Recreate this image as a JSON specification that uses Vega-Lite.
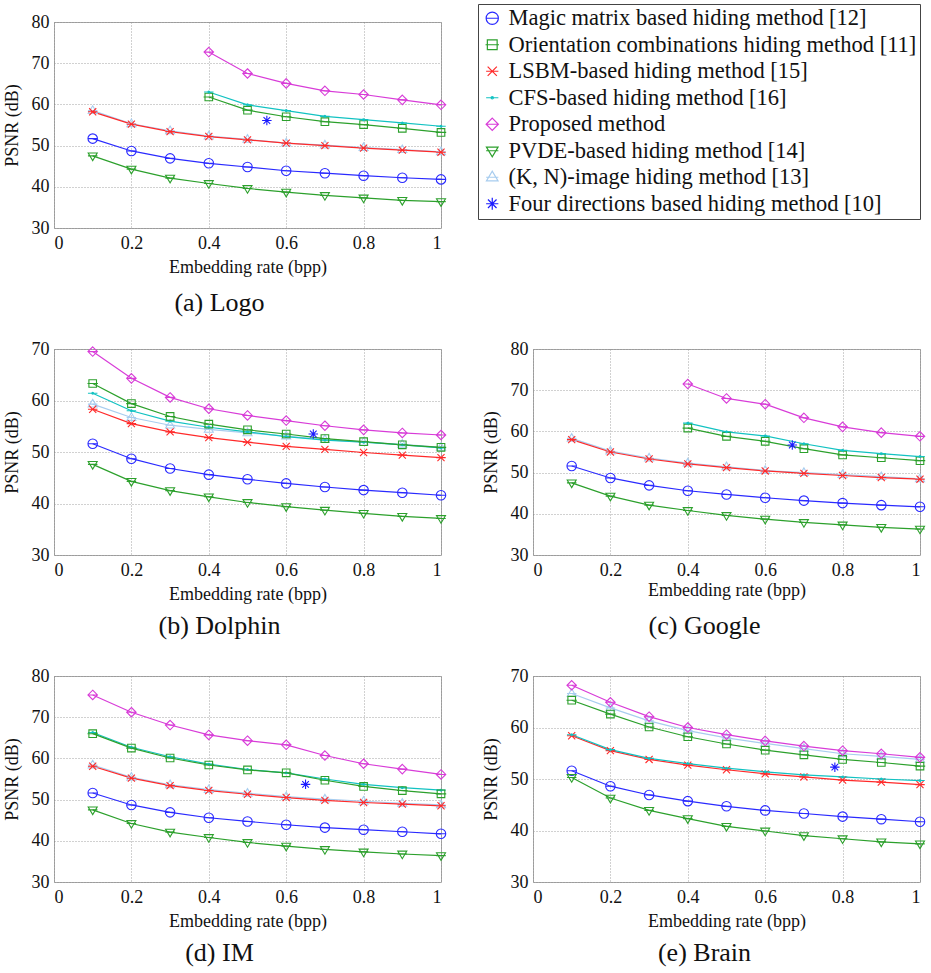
{
"$schema": "https://vega.github.io/schema/vega-lite/v6.json",
"background": "white",
"padding": {"left": 2, "top": 3, "right": 5, "bottom": 5},
"datasets": {
"methods": [
{"m":"M","method":"Magic matrix based hiding method [12]"},
{"m":"O","method":"Orientation combinations hiding method [11]"},
{"m":"L","method":"LSBM-based hiding method [15]"},
{"m":"C","method":"CFS-based hiding method [16]"},
{"m":"P","method":"Proposed method"},
{"m":"V","method":"PVDE-based hiding method [14]"},
{"m":"K","method":"(K, N)-image hiding method [13]"},
{"m":"F","method":"Four directions based hiding method [10]"}
],
"psnr": [
{"i":"a","m":"M","r":0.1,"p":51.7},{"i":"a","m":"M","r":0.2,"p":48.7},{"i":"a","m":"M","r":0.3,"p":46.9},{"i":"a","m":"M","r":0.4,"p":45.7},{"i":"a","m":"M","r":0.5,"p":44.8},{"i":"a","m":"M","r":0.6,"p":43.9},{"i":"a","m":"M","r":0.7,"p":43.3},{"i":"a","m":"M","r":0.8,"p":42.7},{"i":"a","m":"M","r":0.9,"p":42.2},{"i":"a","m":"M","r":1.0,"p":41.8},
{"i":"a","m":"O","r":0.4,"p":61.8},{"i":"a","m":"O","r":0.5,"p":58.6},{"i":"a","m":"O","r":0.6,"p":57.0},{"i":"a","m":"O","r":0.7,"p":55.8},{"i":"a","m":"O","r":0.8,"p":55.1},{"i":"a","m":"O","r":0.9,"p":54.2},{"i":"a","m":"O","r":1.0,"p":53.2},
{"i":"a","m":"K","r":0.1,"p":58.5},{"i":"a","m":"K","r":0.2,"p":55.3},{"i":"a","m":"K","r":0.3,"p":53.6},{"i":"a","m":"K","r":0.4,"p":52.3},{"i":"a","m":"K","r":0.5,"p":51.5},{"i":"a","m":"K","r":0.6,"p":50.6},{"i":"a","m":"K","r":0.7,"p":50.1},{"i":"a","m":"K","r":0.8,"p":49.5},{"i":"a","m":"K","r":0.9,"p":49.0},{"i":"a","m":"K","r":1.0,"p":48.5},
{"i":"a","m":"L","r":0.1,"p":58.2},{"i":"a","m":"L","r":0.2,"p":55.2},{"i":"a","m":"L","r":0.3,"p":53.4},{"i":"a","m":"L","r":0.4,"p":52.2},{"i":"a","m":"L","r":0.5,"p":51.4},{"i":"a","m":"L","r":0.6,"p":50.6},{"i":"a","m":"L","r":0.7,"p":50.0},{"i":"a","m":"L","r":0.8,"p":49.4},{"i":"a","m":"L","r":0.9,"p":48.9},{"i":"a","m":"L","r":1.0,"p":48.4},
{"i":"a","m":"C","r":0.4,"p":63.0},{"i":"a","m":"C","r":0.5,"p":59.9},{"i":"a","m":"C","r":0.6,"p":58.5},{"i":"a","m":"C","r":0.7,"p":57.1},{"i":"a","m":"C","r":0.8,"p":56.3},{"i":"a","m":"C","r":0.9,"p":55.5},{"i":"a","m":"C","r":1.0,"p":54.7},
{"i":"a","m":"P","r":0.4,"p":72.7},{"i":"a","m":"P","r":0.5,"p":67.5},{"i":"a","m":"P","r":0.6,"p":65.1},{"i":"a","m":"P","r":0.7,"p":63.3},{"i":"a","m":"P","r":0.8,"p":62.4},{"i":"a","m":"P","r":0.9,"p":61.1},{"i":"a","m":"P","r":1.0,"p":59.9},
{"i":"a","m":"V","r":0.1,"p":47.5},{"i":"a","m":"V","r":0.2,"p":44.3},{"i":"a","m":"V","r":0.3,"p":42.1},{"i":"a","m":"V","r":0.4,"p":40.8},{"i":"a","m":"V","r":0.5,"p":39.6},{"i":"a","m":"V","r":0.6,"p":38.7},{"i":"a","m":"V","r":0.7,"p":37.9},{"i":"a","m":"V","r":0.8,"p":37.3},{"i":"a","m":"V","r":0.9,"p":36.7},{"i":"a","m":"V","r":1.0,"p":36.4},
{"i":"a","m":"F","r":0.55,"p":56.1},

{"i":"b","m":"M","r":0.1,"p":51.6},{"i":"b","m":"M","r":0.2,"p":48.7},{"i":"b","m":"M","r":0.3,"p":46.8},{"i":"b","m":"M","r":0.4,"p":45.6},{"i":"b","m":"M","r":0.5,"p":44.7},{"i":"b","m":"M","r":0.6,"p":43.9},{"i":"b","m":"M","r":0.7,"p":43.2},{"i":"b","m":"M","r":0.8,"p":42.6},{"i":"b","m":"M","r":0.9,"p":42.1},{"i":"b","m":"M","r":1.0,"p":41.6},
{"i":"b","m":"K","r":0.1,"p":59.3},{"i":"b","m":"K","r":0.2,"p":56.7},{"i":"b","m":"K","r":0.3,"p":55.2},{"i":"b","m":"K","r":0.4,"p":54.4},{"i":"b","m":"K","r":0.5,"p":53.7},{"i":"b","m":"K","r":0.6,"p":53.1},{"i":"b","m":"K","r":0.7,"p":52.4},{"i":"b","m":"K","r":0.8,"p":51.9},{"i":"b","m":"K","r":0.9,"p":51.5},{"i":"b","m":"K","r":1.0,"p":50.9},
{"i":"b","m":"L","r":0.1,"p":58.3},{"i":"b","m":"L","r":0.2,"p":55.5},{"i":"b","m":"L","r":0.3,"p":53.9},{"i":"b","m":"L","r":0.4,"p":52.8},{"i":"b","m":"L","r":0.5,"p":51.9},{"i":"b","m":"L","r":0.6,"p":51.1},{"i":"b","m":"L","r":0.7,"p":50.5},{"i":"b","m":"L","r":0.8,"p":49.9},{"i":"b","m":"L","r":0.9,"p":49.4},{"i":"b","m":"L","r":1.0,"p":48.9},
{"i":"b","m":"C","r":0.1,"p":61.4},{"i":"b","m":"C","r":0.2,"p":58.0},{"i":"b","m":"C","r":0.3,"p":56.0},{"i":"b","m":"C","r":0.4,"p":54.8},{"i":"b","m":"C","r":0.5,"p":53.9},{"i":"b","m":"C","r":0.6,"p":53.0},{"i":"b","m":"C","r":0.7,"p":52.3},{"i":"b","m":"C","r":0.8,"p":51.9},{"i":"b","m":"C","r":0.9,"p":51.4},{"i":"b","m":"C","r":1.0,"p":50.8},
{"i":"b","m":"O","r":0.1,"p":63.3},{"i":"b","m":"O","r":0.2,"p":59.4},{"i":"b","m":"O","r":0.3,"p":56.9},{"i":"b","m":"O","r":0.4,"p":55.4},{"i":"b","m":"O","r":0.5,"p":54.3},{"i":"b","m":"O","r":0.6,"p":53.5},{"i":"b","m":"O","r":0.7,"p":52.6},{"i":"b","m":"O","r":0.8,"p":52.0},{"i":"b","m":"O","r":0.9,"p":51.4},{"i":"b","m":"O","r":1.0,"p":50.9},
{"i":"b","m":"P","r":0.1,"p":69.5},{"i":"b","m":"P","r":0.2,"p":64.3},{"i":"b","m":"P","r":0.3,"p":60.6},{"i":"b","m":"P","r":0.4,"p":58.4},{"i":"b","m":"P","r":0.5,"p":57.1},{"i":"b","m":"P","r":0.6,"p":56.1},{"i":"b","m":"P","r":0.7,"p":55.1},{"i":"b","m":"P","r":0.8,"p":54.3},{"i":"b","m":"P","r":0.9,"p":53.7},{"i":"b","m":"P","r":1.0,"p":53.3},
{"i":"b","m":"V","r":0.1,"p":47.6},{"i":"b","m":"V","r":0.2,"p":44.3},{"i":"b","m":"V","r":0.3,"p":42.5},{"i":"b","m":"V","r":0.4,"p":41.3},{"i":"b","m":"V","r":0.5,"p":40.2},{"i":"b","m":"V","r":0.6,"p":39.4},{"i":"b","m":"V","r":0.7,"p":38.7},{"i":"b","m":"V","r":0.8,"p":38.1},{"i":"b","m":"V","r":0.9,"p":37.5},{"i":"b","m":"V","r":1.0,"p":37.1},
{"i":"b","m":"F","r":0.67,"p":53.5},

{"i":"c","m":"M","r":0.1,"p":51.6},{"i":"c","m":"M","r":0.2,"p":48.7},{"i":"c","m":"M","r":0.3,"p":46.9},{"i":"c","m":"M","r":0.4,"p":45.6},{"i":"c","m":"M","r":0.5,"p":44.7},{"i":"c","m":"M","r":0.6,"p":43.9},{"i":"c","m":"M","r":0.7,"p":43.2},{"i":"c","m":"M","r":0.8,"p":42.6},{"i":"c","m":"M","r":0.9,"p":42.1},{"i":"c","m":"M","r":1.0,"p":41.7},
{"i":"c","m":"K","r":0.1,"p":58.3},{"i":"c","m":"K","r":0.2,"p":55.2},{"i":"c","m":"K","r":0.3,"p":53.5},{"i":"c","m":"K","r":0.4,"p":52.3},{"i":"c","m":"K","r":0.5,"p":51.4},{"i":"c","m":"K","r":0.6,"p":50.5},{"i":"c","m":"K","r":0.7,"p":50.0},{"i":"c","m":"K","r":0.8,"p":49.5},{"i":"c","m":"K","r":0.9,"p":49.0},{"i":"c","m":"K","r":1.0,"p":48.5},
{"i":"c","m":"L","r":0.1,"p":58.0},{"i":"c","m":"L","r":0.2,"p":55.0},{"i":"c","m":"L","r":0.3,"p":53.3},{"i":"c","m":"L","r":0.4,"p":52.1},{"i":"c","m":"L","r":0.5,"p":51.2},{"i":"c","m":"L","r":0.6,"p":50.4},{"i":"c","m":"L","r":0.7,"p":49.8},{"i":"c","m":"L","r":0.8,"p":49.3},{"i":"c","m":"L","r":0.9,"p":48.8},{"i":"c","m":"L","r":1.0,"p":48.4},
{"i":"c","m":"O","r":0.4,"p":60.8},{"i":"c","m":"O","r":0.5,"p":58.8},{"i":"c","m":"O","r":0.6,"p":57.6},{"i":"c","m":"O","r":0.7,"p":55.8},{"i":"c","m":"O","r":0.8,"p":54.3},{"i":"c","m":"O","r":0.9,"p":53.6},{"i":"c","m":"O","r":1.0,"p":52.9},
{"i":"c","m":"C","r":0.4,"p":62.0},{"i":"c","m":"C","r":0.5,"p":59.9},{"i":"c","m":"C","r":0.6,"p":58.9},{"i":"c","m":"C","r":0.7,"p":57.0},{"i":"c","m":"C","r":0.8,"p":55.4},{"i":"c","m":"C","r":0.9,"p":54.6},{"i":"c","m":"C","r":1.0,"p":53.9},
{"i":"c","m":"P","r":0.4,"p":71.5},{"i":"c","m":"P","r":0.5,"p":68.0},{"i":"c","m":"P","r":0.6,"p":66.6},{"i":"c","m":"P","r":0.7,"p":63.3},{"i":"c","m":"P","r":0.8,"p":61.1},{"i":"c","m":"P","r":0.9,"p":59.7},{"i":"c","m":"P","r":1.0,"p":58.8},
{"i":"c","m":"V","r":0.1,"p":47.5},{"i":"c","m":"V","r":0.2,"p":44.3},{"i":"c","m":"V","r":0.3,"p":42.1},{"i":"c","m":"V","r":0.4,"p":40.8},{"i":"c","m":"V","r":0.5,"p":39.6},{"i":"c","m":"V","r":0.6,"p":38.7},{"i":"c","m":"V","r":0.7,"p":37.9},{"i":"c","m":"V","r":0.8,"p":37.3},{"i":"c","m":"V","r":0.9,"p":36.7},{"i":"c","m":"V","r":1.0,"p":36.3},
{"i":"c","m":"F","r":0.67,"p":56.7},

{"i":"d","m":"M","r":0.1,"p":51.6},{"i":"d","m":"M","r":0.2,"p":48.7},{"i":"d","m":"M","r":0.3,"p":46.9},{"i":"d","m":"M","r":0.4,"p":45.6},{"i":"d","m":"M","r":0.5,"p":44.7},{"i":"d","m":"M","r":0.6,"p":43.9},{"i":"d","m":"M","r":0.7,"p":43.2},{"i":"d","m":"M","r":0.8,"p":42.7},{"i":"d","m":"M","r":0.9,"p":42.2},{"i":"d","m":"M","r":1.0,"p":41.7},
{"i":"d","m":"K","r":0.1,"p":58.4},{"i":"d","m":"K","r":0.2,"p":55.4},{"i":"d","m":"K","r":0.3,"p":53.6},{"i":"d","m":"K","r":0.4,"p":52.4},{"i":"d","m":"K","r":0.5,"p":51.5},{"i":"d","m":"K","r":0.6,"p":50.7},{"i":"d","m":"K","r":0.7,"p":50.1},{"i":"d","m":"K","r":0.8,"p":49.6},{"i":"d","m":"K","r":0.9,"p":49.1},{"i":"d","m":"K","r":1.0,"p":48.7},
{"i":"d","m":"L","r":0.1,"p":58.1},{"i":"d","m":"L","r":0.2,"p":55.2},{"i":"d","m":"L","r":0.3,"p":53.4},{"i":"d","m":"L","r":0.4,"p":52.2},{"i":"d","m":"L","r":0.5,"p":51.3},{"i":"d","m":"L","r":0.6,"p":50.5},{"i":"d","m":"L","r":0.7,"p":49.8},{"i":"d","m":"L","r":0.8,"p":49.3},{"i":"d","m":"L","r":0.9,"p":48.9},{"i":"d","m":"L","r":1.0,"p":48.5},
{"i":"d","m":"C","r":0.1,"p":66.3},{"i":"d","m":"C","r":0.2,"p":62.7},{"i":"d","m":"C","r":0.3,"p":60.4},{"i":"d","m":"C","r":0.4,"p":58.6},{"i":"d","m":"C","r":0.5,"p":57.3},{"i":"d","m":"C","r":0.6,"p":56.5},{"i":"d","m":"C","r":0.7,"p":55.0},{"i":"d","m":"C","r":0.8,"p":53.7},{"i":"d","m":"C","r":0.9,"p":52.9},{"i":"d","m":"C","r":1.0,"p":52.3},
{"i":"d","m":"O","r":0.1,"p":66.0},{"i":"d","m":"O","r":0.2,"p":62.5},{"i":"d","m":"O","r":0.3,"p":60.1},{"i":"d","m":"O","r":0.4,"p":58.4},{"i":"d","m":"O","r":0.5,"p":57.2},{"i":"d","m":"O","r":0.6,"p":56.5},{"i":"d","m":"O","r":0.7,"p":54.7},{"i":"d","m":"O","r":0.8,"p":53.2},{"i":"d","m":"O","r":0.9,"p":52.2},{"i":"d","m":"O","r":1.0,"p":51.4},
{"i":"d","m":"P","r":0.1,"p":75.4},{"i":"d","m":"P","r":0.2,"p":71.2},{"i":"d","m":"P","r":0.3,"p":68.1},{"i":"d","m":"P","r":0.4,"p":65.7},{"i":"d","m":"P","r":0.5,"p":64.3},{"i":"d","m":"P","r":0.6,"p":63.3},{"i":"d","m":"P","r":0.7,"p":60.7},{"i":"d","m":"P","r":0.8,"p":58.7},{"i":"d","m":"P","r":0.9,"p":57.4},{"i":"d","m":"P","r":1.0,"p":56.1},
{"i":"d","m":"V","r":0.1,"p":47.5},{"i":"d","m":"V","r":0.2,"p":44.2},{"i":"d","m":"V","r":0.3,"p":42.1},{"i":"d","m":"V","r":0.4,"p":40.8},{"i":"d","m":"V","r":0.5,"p":39.6},{"i":"d","m":"V","r":0.6,"p":38.7},{"i":"d","m":"V","r":0.7,"p":37.9},{"i":"d","m":"V","r":0.8,"p":37.3},{"i":"d","m":"V","r":0.9,"p":36.8},{"i":"d","m":"V","r":1.0,"p":36.4},
{"i":"d","m":"F","r":0.65,"p":53.7},

{"i":"e","m":"M","r":0.1,"p":51.6},{"i":"e","m":"M","r":0.2,"p":48.6},{"i":"e","m":"M","r":0.3,"p":46.9},{"i":"e","m":"M","r":0.4,"p":45.7},{"i":"e","m":"M","r":0.5,"p":44.7},{"i":"e","m":"M","r":0.6,"p":43.9},{"i":"e","m":"M","r":0.7,"p":43.3},{"i":"e","m":"M","r":0.8,"p":42.7},{"i":"e","m":"M","r":0.9,"p":42.2},{"i":"e","m":"M","r":1.0,"p":41.7},
{"i":"e","m":"L","r":0.1,"p":58.4},{"i":"e","m":"L","r":0.2,"p":55.5},{"i":"e","m":"L","r":0.3,"p":53.8},{"i":"e","m":"L","r":0.4,"p":52.7},{"i":"e","m":"L","r":0.5,"p":51.8},{"i":"e","m":"L","r":0.6,"p":51.0},{"i":"e","m":"L","r":0.7,"p":50.4},{"i":"e","m":"L","r":0.8,"p":49.8},{"i":"e","m":"L","r":0.9,"p":49.4},{"i":"e","m":"L","r":1.0,"p":48.9},
{"i":"e","m":"C","r":0.1,"p":58.6},{"i":"e","m":"C","r":0.2,"p":55.7},{"i":"e","m":"C","r":0.3,"p":54.0},{"i":"e","m":"C","r":0.4,"p":53.0},{"i":"e","m":"C","r":0.5,"p":52.1},{"i":"e","m":"C","r":0.6,"p":51.4},{"i":"e","m":"C","r":0.7,"p":50.8},{"i":"e","m":"C","r":0.8,"p":50.4},{"i":"e","m":"C","r":0.9,"p":50.0},{"i":"e","m":"C","r":1.0,"p":49.7},
{"i":"e","m":"K","r":0.1,"p":66.6},{"i":"e","m":"K","r":0.2,"p":63.8},{"i":"e","m":"K","r":0.3,"p":61.3},{"i":"e","m":"K","r":0.4,"p":59.4},{"i":"e","m":"K","r":0.5,"p":58.0},{"i":"e","m":"K","r":0.6,"p":56.9},{"i":"e","m":"K","r":0.7,"p":55.9},{"i":"e","m":"K","r":0.8,"p":54.9},{"i":"e","m":"K","r":0.9,"p":54.4},{"i":"e","m":"K","r":1.0,"p":53.8},
{"i":"e","m":"O","r":0.1,"p":65.3},{"i":"e","m":"O","r":0.2,"p":62.6},{"i":"e","m":"O","r":0.3,"p":60.1},{"i":"e","m":"O","r":0.4,"p":58.2},{"i":"e","m":"O","r":0.5,"p":56.8},{"i":"e","m":"O","r":0.6,"p":55.6},{"i":"e","m":"O","r":0.7,"p":54.7},{"i":"e","m":"O","r":0.8,"p":53.8},{"i":"e","m":"O","r":0.9,"p":53.2},{"i":"e","m":"O","r":1.0,"p":52.5},
{"i":"e","m":"P","r":0.1,"p":68.2},{"i":"e","m":"P","r":0.2,"p":64.9},{"i":"e","m":"P","r":0.3,"p":62.1},{"i":"e","m":"P","r":0.4,"p":60.0},{"i":"e","m":"P","r":0.5,"p":58.6},{"i":"e","m":"P","r":0.6,"p":57.4},{"i":"e","m":"P","r":0.7,"p":56.4},{"i":"e","m":"P","r":0.8,"p":55.5},{"i":"e","m":"P","r":0.9,"p":54.9},{"i":"e","m":"P","r":1.0,"p":54.2},
{"i":"e","m":"V","r":0.1,"p":50.3},{"i":"e","m":"V","r":0.2,"p":46.3},{"i":"e","m":"V","r":0.3,"p":43.9},{"i":"e","m":"V","r":0.4,"p":42.3},{"i":"e","m":"V","r":0.5,"p":40.8},{"i":"e","m":"V","r":0.6,"p":39.9},{"i":"e","m":"V","r":0.7,"p":39.0},{"i":"e","m":"V","r":0.8,"p":38.4},{"i":"e","m":"V","r":0.9,"p":37.8},{"i":"e","m":"V","r":1.0,"p":37.4},
{"i":"e","m":"F","r":0.78,"p":52.3}
]
},
"data": {"name": "psnr"},
"columns": 2,
"bounds": "flush",
"spacing": {"row": 121, "column": 92},
"concat": [
{
"width": 387, "height": 206,
"transform": [{"filter": "datum.i == 'a'"}, {"lookup": "m", "from": {"data": {"name": "methods"}, "key": "m", "fields": ["method"]}}],
"title": {"text": "(a) Logo", "orient": "bottom", "anchor": "middle", "dx": -28, "offset": 14},
"encoding": {
"x": {"field": "r", "type": "quantitative", "scale": {"domain": [0, 1], "nice": false}, "axis": {"title": "Embedding rate (bpp)", "values": [0, 0.2, 0.4, 0.6, 0.8, 1], "format": "~g", "titlePadding": 6}},
"y": {"field": "p", "type": "quantitative", "scale": {"domain": [30, 80], "nice": false}, "axis": {"title": "PSNR (dB)", "values": [30, 40, 50, 60, 70, 80], "titlePadding": 10}},
"color": {"field": "method", "type": "nominal",
"scale": {"domain": ["Magic matrix based hiding method [12]", "Orientation combinations hiding method [11]", "LSBM-based hiding method [15]", "CFS-based hiding method [16]", "Proposed method", "PVDE-based hiding method [14]", "(K, N)-image hiding method [13]", "Four directions based hiding method [10]"],
"range": ["#2a2aff", "#2ca02c", "#ff2a2a", "#12c2c2", "#d83cd8", "#2ca02c", "#a8cdef", "#1a1aff"]},
"legend": {"title": null, "orient": "none", "legendX": 424, "legendY": -18}}
},
"layer": [
{"transform": [{"filter": "datum.m != 'F'"}], "mark": {"type": "line", "strokeWidth": 1.2}},
{"mark": {"type": "point", "filled": false, "opacity": 1, "strokeWidth": 1.1, "size": 90},
"encoding": {"shape": {"field": "method", "type": "nominal",
"scale": {"domain": ["Magic matrix based hiding method [12]", "Orientation combinations hiding method [11]", "LSBM-based hiding method [15]", "CFS-based hiding method [16]", "Proposed method", "PVDE-based hiding method [14]", "(K, N)-image hiding method [13]", "Four directions based hiding method [10]"],
"range": ["M-1,0A1,1,0,1,0,1,0A1,1,0,1,0,-1,0M-1,0L1,0", "M-0.8,-0.8L0.8,-0.8L0.8,0.8L-0.8,0.8ZM-1.1,0L1.1,0", "M-0.75,-0.75L0.75,0.75M-0.75,0.75L0.75,-0.75M-1,0L1,0", "M-0.2,0A0.2,0.2,0,1,0,0.2,0A0.2,0.2,0,1,0,-0.2,0M-1,0L1,0", "M0,-1L1,0L0,1L-1,0ZM-1,0L1,0", "M-0.95,-0.6L0.95,-0.6L0,1ZM-1,0L1,0", "M-0.95,0.6L0.95,0.6L0,-1ZM-1,0L1,0", "M0,-1L0,1M-1,0L1,0M-0.7,-0.7L0.7,0.7M-0.7,0.7L0.7,-0.7"]},
"legend": {"title": null, "orient": "none", "legendX": 424, "legendY": -18}}}}
]
},
{
"width": 387, "height": 206,
"data": {"values": []},
"view": {"stroke": null},
"mark": "point"
},
{
"width": 387, "height": 206,
"transform": [{"filter": "datum.i == 'b'"}, {"lookup": "m", "from": {"data": {"name": "methods"}, "key": "m", "fields": ["method"]}}],
"title": {"text": "(b) Dolphin", "orient": "bottom", "anchor": "middle", "dx": -28, "offset": 10},
"encoding": {
"x": {"field": "r", "type": "quantitative", "scale": {"domain": [0, 1], "nice": false}, "axis": {"title": "Embedding rate (bpp)", "values": [0, 0.2, 0.4, 0.6, 0.8, 1], "format": "~g", "titlePadding": 6}},
"y": {"field": "p", "type": "quantitative", "scale": {"domain": [30, 70], "nice": false}, "axis": {"title": "PSNR (dB)", "values": [30, 40, 50, 60, 70], "titlePadding": 10}},
"color": {"field": "method", "type": "nominal", "legend": null}
},
"layer": [
{"transform": [{"filter": "datum.m != 'F'"}], "mark": {"type": "line", "strokeWidth": 1.2}},
{"mark": {"type": "point", "filled": false, "opacity": 1, "strokeWidth": 1.1, "size": 90}, "encoding": {"shape": {"field": "method", "type": "nominal", "legend": null}}}
]
},
{
"width": 387, "height": 206,
"transform": [{"filter": "datum.i == 'c'"}, {"lookup": "m", "from": {"data": {"name": "methods"}, "key": "m", "fields": ["method"]}}],
"title": {"text": "(c) Google", "orient": "bottom", "anchor": "middle", "dx": -22, "offset": 14},
"encoding": {
"x": {"field": "r", "type": "quantitative", "scale": {"domain": [0, 1], "nice": false}, "axis": {"title": "Embedding rate (bpp)", "values": [0, 0.2, 0.4, 0.6, 0.8, 1], "format": "~g", "titlePadding": 2}},
"y": {"field": "p", "type": "quantitative", "scale": {"domain": [30, 80], "nice": false}, "axis": {"title": "PSNR (dB)", "values": [30, 40, 50, 60, 70, 80], "titlePadding": 10}},
"color": {"field": "method", "type": "nominal", "legend": null}
},
"layer": [
{"transform": [{"filter": "datum.m != 'F'"}], "mark": {"type": "line", "strokeWidth": 1.2}},
{"mark": {"type": "point", "filled": false, "opacity": 1, "strokeWidth": 1.1, "size": 90}, "encoding": {"shape": {"field": "method", "type": "nominal", "legend": null}}}
]
},
{
"width": 387, "height": 206,
"transform": [{"filter": "datum.i == 'd'"}, {"lookup": "m", "from": {"data": {"name": "methods"}, "key": "m", "fields": ["method"]}}],
"title": {"text": "(d) IM", "orient": "bottom", "anchor": "middle", "dx": -28, "offset": 10},
"encoding": {
"x": {"field": "r", "type": "quantitative", "scale": {"domain": [0, 1], "nice": false}, "axis": {"title": "Embedding rate (bpp)", "values": [0, 0.2, 0.4, 0.6, 0.8, 1], "format": "~g", "titlePadding": 6}},
"y": {"field": "p", "type": "quantitative", "scale": {"domain": [30, 80], "nice": false}, "axis": {"title": "PSNR (dB)", "values": [30, 40, 50, 60, 70, 80], "titlePadding": 10}},
"color": {"field": "method", "type": "nominal", "legend": null}
},
"layer": [
{"transform": [{"filter": "datum.m != 'F'"}], "mark": {"type": "line", "strokeWidth": 1.2}},
{"mark": {"type": "point", "filled": false, "opacity": 1, "strokeWidth": 1.1, "size": 90}, "encoding": {"shape": {"field": "method", "type": "nominal", "legend": null}}}
]
},
{
"width": 387, "height": 206,
"transform": [{"filter": "datum.i == 'e'"}, {"lookup": "m", "from": {"data": {"name": "methods"}, "key": "m", "fields": ["method"]}}],
"title": {"text": "(e) Brain", "orient": "bottom", "anchor": "middle", "dx": -22, "offset": 10},
"encoding": {
"x": {"field": "r", "type": "quantitative", "scale": {"domain": [0, 1], "nice": false}, "axis": {"title": "Embedding rate (bpp)", "values": [0, 0.2, 0.4, 0.6, 0.8, 1], "format": "~g", "titlePadding": 6}},
"y": {"field": "p", "type": "quantitative", "scale": {"domain": [30, 70], "nice": false}, "axis": {"title": "PSNR (dB)", "values": [30, 40, 50, 60, 70], "titlePadding": 10}},
"color": {"field": "method", "type": "nominal", "legend": null}
},
"layer": [
{"transform": [{"filter": "datum.m != 'F'"}], "mark": {"type": "line", "strokeWidth": 1.2}},
{"mark": {"type": "point", "filled": false, "opacity": 1, "strokeWidth": 1.1, "size": 90}, "encoding": {"shape": {"field": "method", "type": "nominal", "legend": null}}}
]
}
],
"config": {
"font": "Liberation Serif, Times New Roman, serif",
"view": {"stroke": "#a8a8a8", "strokeWidth": 1},
"axis": {"labelFont": "Liberation Serif, Times New Roman, serif", "titleFont": "Liberation Serif, Times New Roman, serif", "labelFontSize": 18, "titleFontSize": 18, "titleFontWeight": "normal", "labelColor": "#111", "titleColor": "#111", "domain": false, "ticks": false, "grid": true, "gridColor": "#8a8a8a", "gridDash": [1, 2], "gridWidth": 0.8, "labelPadding": 5},
"axisX": {"labelPadding": 6},
"title": {"font": "Liberation Serif, Times New Roman, serif", "fontSize": 26, "fontWeight": "normal", "color": "#111"},
"legend": {"labelFont": "Liberation Serif, Times New Roman, serif", "labelFontSize": 22.5, "labelColor": "#111", "labelLimit": 0, "symbolSize": 150, "symbolStrokeWidth": 1.2, "rowPadding": 3.5, "padding": 3, "labelOffset": 5, "strokeColor": "#444", "fillColor": "white", "symbolType": "circle"}
}
}
